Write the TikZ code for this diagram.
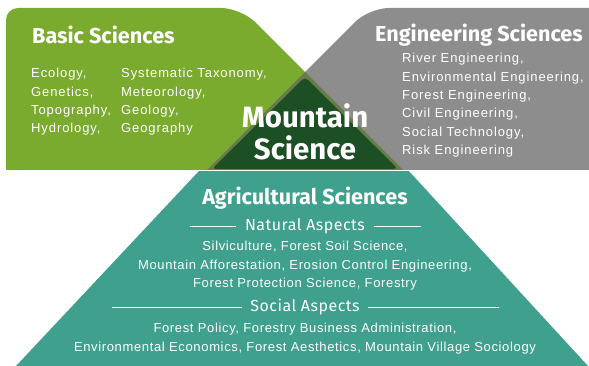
\documentclass[tikz,border=0pt]{standalone}
\usepackage{fontspec}
\setmainfont{Liberation Sans}
\newfontfamily\headfont{Fira Sans}
\usetikzlibrary{positioning}
\definecolor{basicgreen}{RGB}{122,170,46}
\definecolor{enggray}{RGB}{141,141,141}
\definecolor{agriteal}{RGB}{62,160,141}
\definecolor{mtgreen}{RGB}{29,79,37}
\definecolor{overlap}{RGB}{104,124,72}
\tikzset{
  head/.style={text=white, inner sep=0pt, font=\headfont\bfseries\fontsize{21.6}{24}\selectfont},
  mtitle/.style={text=white, inner sep=0pt, align=center, font=\headfont\bfseries\fontsize{29.4}{32}\selectfont},
  aspect/.style={text=white, inner sep=0pt, font=\headfont\addfontfeatures{LetterSpace=3}\fontsize{16}{18}\selectfont},
  item/.style={text=white, inner sep=0pt, align=left, font=\addfontfeatures{LetterSpace=7}\fontsize{13}{18.4}\selectfont},
  agitem/.style={text=white, inner sep=0pt, align=center, font=\addfontfeatures{LetterSpace=5}\fontsize{13}{18.5}\selectfont},
  rule/.style={white, line width=0.8pt}
}
\begin{document}
\begin{tikzpicture}[x=1pt, y=-1pt]
\useasboundingbox (0,0) rectangle (589,366);
\clip (0,0) rectangle (589,366);
% shapes
\fill[basicgreen] (6,170) [rounded corners=12pt] -- (6,8) [rounded corners=20pt] -- (241,8) [sharp corners] -- (403,170) -- cycle;
\fill[enggray] (589,170) -- (207,170) [rounded corners=20pt] -- (369,8) [sharp corners] -- (589,8) -- cycle;
\fill[overlap] (305,72) -- (207,170) -- (403,170) -- cycle;
\fill[mtgreen, rounded corners=4pt] (305,77) -- (212,169) -- (398,169) -- cycle;
\begin{scope}
  \clip (0,172) rectangle (589,366);
  \fill[agriteal] (305,58) -- (16,366) -- (588,366) -- cycle;
\end{scope}

% nodes
\node[head, anchor=west] (basic) at (32,35) {Basic Sciences};
\node[item, anchor=north west] (basic1) at (31,68) {Ecology,\\Genetics,\\Topography,\\Hydrology,};
\node[item, anchor=north west] (basic2) at (121,68) {Systematic Taxonomy,\\Meteorology,\\Geology,\\Geography};

\node[head, anchor=west] (eng) at (375,35) {Engineering Sciences};
\node[item, anchor=north west] (engitems) at (402,53) {River Engineering,\\Environmental Engineering,\\Forest Engineering,\\Civil Engineering,\\Social Technology,\\Risk Engineering};

\node[mtitle] (mtn) at (305,132) {Mountain\\Science};

\node[head] (agri) at (305,198) {Agricultural Sciences};
\node[aspect] (natural) at (305,226) {Natural Aspects};
\node[agitem, below=7pt of natural] (natitems) {Silviculture, Forest Soil Science,\\Mountain Afforestation, Erosion Control Engineering,\\Forest Protection Science, Forestry};
\node[aspect] (social) at (305,307) {Social Aspects};
\node[agitem, below=8pt of social] (socitems) {Forest Policy, Forestry Business Administration,\\Environmental Economics, Forest Aesthetics, Mountain Village Sociology};

\coordinate (natL) at (190,226);
\coordinate (natR) at (421,226);
\coordinate (socL) at (112,307);
\coordinate (socR) at (499,307);

% rules
\draw[rule] (natL) -- ([xshift=-9pt]natural.west);
\draw[rule] ([xshift=9pt]natural.east) -- (natR);
\draw[rule] (socL) -- ([xshift=-8pt]social.west);
\draw[rule] ([xshift=8pt]social.east) -- (socR);
\end{tikzpicture}
\end{document}
